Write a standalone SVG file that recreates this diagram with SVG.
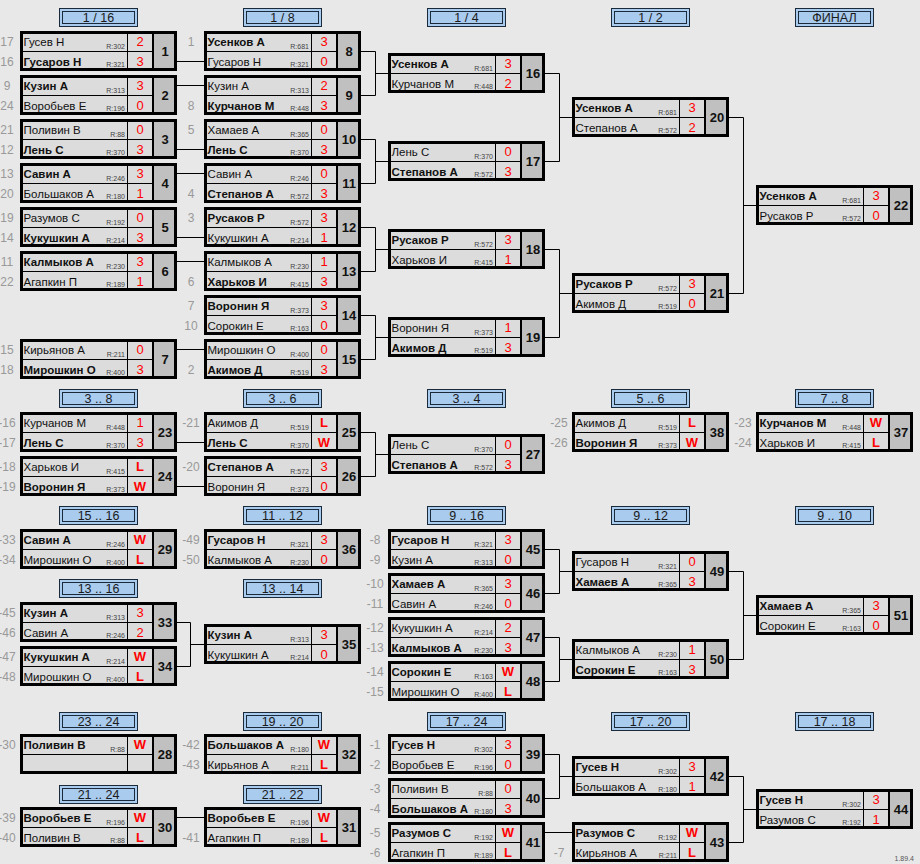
<svg xmlns="http://www.w3.org/2000/svg" xmlns:xlink="http://www.w3.org/1999/xlink" width="920" height="864" viewBox="0 0 920 864">
<style>
text{font-family:"Liberation Sans",Arial,sans-serif}
.t{font-size:11.5px;fill:#111}
.b{font-weight:bold}
.r{font-size:7px;fill:#444;text-anchor:end}
.s{font-size:13px;fill:#f00;text-anchor:middle}
.n{font-size:13px;font-weight:bold;fill:#111;text-anchor:middle}
.l{font-size:12px;fill:#999;text-anchor:middle}
.h{font-size:12.5px;fill:#1a1a1a;text-anchor:middle}
.v{font-size:7px;fill:#555;text-anchor:end}
.c{fill:none;stroke:#000;stroke-width:1}
</style>
<defs>
<g id="f">
<rect x="0" y="0" width="157" height="40" fill="#dcdcdc"/>
<rect x="133" y="0" width="24" height="40" fill="#c0c0c0"/>
<path d="M0 20.5H133M107.5 0V40" stroke="#000" stroke-width="1"/>
<path d="M133 0V40" stroke="#000" stroke-width="2"/>
<rect x="1.5" y="1.5" width="154" height="37" fill="none" stroke="#000" stroke-width="3"/>
</g>
<g id="hf">
<rect x="0.5" y="0.5" width="78" height="18" fill="#a9cbee" stroke="#1a2a3a" stroke-width="1"/>
<rect x="3.5" y="3.5" width="72" height="12" fill="none" stroke="#1a2a3a" stroke-width="1"/>
</g>
</defs>
<rect width="920" height="864" fill="#e8e8e8"/>

<g id="headers">
<g transform="translate(59,8)"><use href="#hf"/><text class="h" x="39.5" y="14">1 / 16</text></g>
<g transform="translate(243,8)"><use href="#hf"/><text class="h" x="39.5" y="14">1 / 8</text></g>
<g transform="translate(427,8)"><use href="#hf"/><text class="h" x="39.5" y="14">1 / 4</text></g>
<g transform="translate(611,8)"><use href="#hf"/><text class="h" x="39.5" y="14">1 / 2</text></g>
<g transform="translate(795,8)"><use href="#hf"/><text class="h" x="39.5" y="14">ФИНАЛ</text></g>
<g transform="translate(59,389)"><use href="#hf"/><text class="h" x="39.5" y="14">3 .. 8</text></g>
<g transform="translate(243,389)"><use href="#hf"/><text class="h" x="39.5" y="14">3 .. 6</text></g>
<g transform="translate(427,389)"><use href="#hf"/><text class="h" x="39.5" y="14">3 .. 4</text></g>
<g transform="translate(611,389)"><use href="#hf"/><text class="h" x="39.5" y="14">5 .. 6</text></g>
<g transform="translate(795,389)"><use href="#hf"/><text class="h" x="39.5" y="14">7 .. 8</text></g>
<g transform="translate(59,506)"><use href="#hf"/><text class="h" x="39.5" y="14">15 .. 16</text></g>
<g transform="translate(243,506)"><use href="#hf"/><text class="h" x="39.5" y="14">11 .. 12</text></g>
<g transform="translate(427,506)"><use href="#hf"/><text class="h" x="39.5" y="14">9 .. 16</text></g>
<g transform="translate(611,506)"><use href="#hf"/><text class="h" x="39.5" y="14">9 .. 12</text></g>
<g transform="translate(795,506)"><use href="#hf"/><text class="h" x="39.5" y="14">9 .. 10</text></g>
<g transform="translate(59,579)"><use href="#hf"/><text class="h" x="39.5" y="14">13 .. 16</text></g>
<g transform="translate(243,579)"><use href="#hf"/><text class="h" x="39.5" y="14">13 .. 14</text></g>
<g transform="translate(59,712)"><use href="#hf"/><text class="h" x="39.5" y="14">23 .. 24</text></g>
<g transform="translate(243,712)"><use href="#hf"/><text class="h" x="39.5" y="14">19 .. 20</text></g>
<g transform="translate(427,712)"><use href="#hf"/><text class="h" x="39.5" y="14">17 .. 24</text></g>
<g transform="translate(611,712)"><use href="#hf"/><text class="h" x="39.5" y="14">17 .. 20</text></g>
<g transform="translate(795,712)"><use href="#hf"/><text class="h" x="39.5" y="14">17 .. 18</text></g>
<g transform="translate(59,785)"><use href="#hf"/><text class="h" x="39.5" y="14">21 .. 24</text></g>
<g transform="translate(243,785)"><use href="#hf"/><text class="h" x="39.5" y="14">21 .. 22</text></g>
</g>

<g id="connectors">
<path class="c" d="M177 61.5H204M177 85.5H204M177 149.5H204M177 173.5H204M177 237.5H204M177 261.5H204M177 349.5H204"/>
<path class="c" d="M361 51.5H375.5V95.5H361M375.5 73.5H388M361 139.5H375.5V183.5H361M375.5 161.5H388M361 227.5H375.5V271.5H361M375.5 249.5H388M361 315.5H375.5V359.5H361M375.5 337.5H388"/>
<path class="c" d="M545 73.5H559.5V161.5H545M559.5 117.5H572M545 249.5H559.5V337.5H545M559.5 293.5H572"/>
<path class="c" d="M729 117.5H743.5V293.5H729M743.5 205.5H756"/>
<path class="c" d="M177 442.5H204M177 486.5H204M361 432.5H375.5V476.5H361M375.5 454.5H388"/>
<path class="c" d="M177 622.5H190.5V666.5H177M190.5 644.5H204"/>
<path class="c" d="M545 549.5H559.5V593.5H545M559.5 571.5H572M545 637.5H559.5V681.5H545M559.5 659.5H572M729 571.5H743.5V659.5H729M743.5 615.5H756"/>
<path class="c" d="M545 754.5H559.5V798.5H545M559.5 776.5H572M545 832.5H572M729 776.5H743.5V842.5H729M743.5 809.5H756"/>
<path class="c" d="M177 817.5H204"/>
</g>

<g id="m1" transform="translate(20,31)"><use href="#f"/><text class="l" x="-13" y="15">17</text><text class="l" x="-13" y="35">16</text><text class="t" x="3.5" y="15">Гусев Н</text><text class="t b" x="3.5" y="35">Гусаров Н</text><text class="r" x="105" y="17.5">R:302</text><text class="r" x="105" y="36">R:321</text><text class="s" x="120" y="15">2</text><text class="s" x="120" y="35">3</text><text class="n" x="145" y="25">1</text></g>
<g id="m2" transform="translate(20,75)"><use href="#f"/><text class="l" x="-13" y="15">9</text><text class="l" x="-13" y="35">24</text><text class="t b" x="3.5" y="15">Кузин А</text><text class="t" x="3.5" y="35">Воробьев Е</text><text class="r" x="105" y="17.5">R:313</text><text class="r" x="105" y="36">R:196</text><text class="s" x="120" y="15">3</text><text class="s" x="120" y="35">0</text><text class="n" x="145" y="25">2</text></g>
<g id="m3" transform="translate(20,119)"><use href="#f"/><text class="l" x="-13" y="15">21</text><text class="l" x="-13" y="35">12</text><text class="t" x="3.5" y="15">Поливин В</text><text class="t b" x="3.5" y="35">Лень С</text><text class="r" x="105" y="17.5">R:88</text><text class="r" x="105" y="36">R:370</text><text class="s" x="120" y="15">0</text><text class="s" x="120" y="35">3</text><text class="n" x="145" y="25">3</text></g>
<g id="m4" transform="translate(20,163)"><use href="#f"/><text class="l" x="-13" y="15">13</text><text class="l" x="-13" y="35">20</text><text class="t b" x="3.5" y="15">Савин А</text><text class="t" x="3.5" y="35">Большаков А</text><text class="r" x="105" y="17.5">R:246</text><text class="r" x="105" y="36">R:180</text><text class="s" x="120" y="15">3</text><text class="s" x="120" y="35">1</text><text class="n" x="145" y="25">4</text></g>
<g id="m5" transform="translate(20,207)"><use href="#f"/><text class="l" x="-13" y="15">19</text><text class="l" x="-13" y="35">14</text><text class="t" x="3.5" y="15">Разумов С</text><text class="t b" x="3.5" y="35">Кукушкин А</text><text class="r" x="105" y="17.5">R:192</text><text class="r" x="105" y="36">R:214</text><text class="s" x="120" y="15">0</text><text class="s" x="120" y="35">3</text><text class="n" x="145" y="25">5</text></g>
<g id="m6" transform="translate(20,251)"><use href="#f"/><text class="l" x="-13" y="15">11</text><text class="l" x="-13" y="35">22</text><text class="t b" x="3.5" y="15">Калмыков А</text><text class="t" x="3.5" y="35">Агапкин П</text><text class="r" x="105" y="17.5">R:230</text><text class="r" x="105" y="36">R:189</text><text class="s" x="120" y="15">3</text><text class="s" x="120" y="35">1</text><text class="n" x="145" y="25">6</text></g>
<g id="m7" transform="translate(20,339)"><use href="#f"/><text class="l" x="-13" y="15">15</text><text class="l" x="-13" y="35">18</text><text class="t" x="3.5" y="15">Кирьянов А</text><text class="t b" x="3.5" y="35">Мирошкин О</text><text class="r" x="105" y="17.5">R:211</text><text class="r" x="105" y="36">R:400</text><text class="s" x="120" y="15">0</text><text class="s" x="120" y="35">3</text><text class="n" x="145" y="25">7</text></g>
<g id="m8" transform="translate(204,31)"><use href="#f"/><text class="l" x="-13" y="15">1</text><text class="t b" x="3.5" y="15">Усенков А</text><text class="t" x="3.5" y="35">Гусаров Н</text><text class="r" x="105" y="17.5">R:681</text><text class="r" x="105" y="36">R:321</text><text class="s" x="120" y="15">3</text><text class="s" x="120" y="35">0</text><text class="n" x="145" y="25">8</text></g>
<g id="m9" transform="translate(204,75)"><use href="#f"/><text class="l" x="-13" y="35">8</text><text class="t" x="3.5" y="15">Кузин А</text><text class="t b" x="3.5" y="35">Курчанов М</text><text class="r" x="105" y="17.5">R:313</text><text class="r" x="105" y="36">R:448</text><text class="s" x="120" y="15">2</text><text class="s" x="120" y="35">3</text><text class="n" x="145" y="25">9</text></g>
<g id="m10" transform="translate(204,119)"><use href="#f"/><text class="l" x="-13" y="15">5</text><text class="t" x="3.5" y="15">Хамаев А</text><text class="t b" x="3.5" y="35">Лень С</text><text class="r" x="105" y="17.5">R:365</text><text class="r" x="105" y="36">R:370</text><text class="s" x="120" y="15">0</text><text class="s" x="120" y="35">3</text><text class="n" x="145" y="25">10</text></g>
<g id="m11" transform="translate(204,163)"><use href="#f"/><text class="l" x="-13" y="35">4</text><text class="t" x="3.5" y="15">Савин А</text><text class="t b" x="3.5" y="35">Степанов А</text><text class="r" x="105" y="17.5">R:246</text><text class="r" x="105" y="36">R:572</text><text class="s" x="120" y="15">0</text><text class="s" x="120" y="35">3</text><text class="n" x="145" y="25">11</text></g>
<g id="m12" transform="translate(204,207)"><use href="#f"/><text class="l" x="-13" y="15">3</text><text class="t b" x="3.5" y="15">Русаков Р</text><text class="t" x="3.5" y="35">Кукушкин А</text><text class="r" x="105" y="17.5">R:572</text><text class="r" x="105" y="36">R:214</text><text class="s" x="120" y="15">3</text><text class="s" x="120" y="35">1</text><text class="n" x="145" y="25">12</text></g>
<g id="m13" transform="translate(204,251)"><use href="#f"/><text class="l" x="-13" y="35">6</text><text class="t" x="3.5" y="15">Калмыков А</text><text class="t b" x="3.5" y="35">Харьков И</text><text class="r" x="105" y="17.5">R:230</text><text class="r" x="105" y="36">R:415</text><text class="s" x="120" y="15">1</text><text class="s" x="120" y="35">3</text><text class="n" x="145" y="25">13</text></g>
<g id="m14" transform="translate(204,295)"><use href="#f"/><text class="l" x="-13" y="15">7</text><text class="l" x="-13" y="35">10</text><text class="t b" x="3.5" y="15">Воронин Я</text><text class="t" x="3.5" y="35">Сорокин Е</text><text class="r" x="105" y="17.5">R:373</text><text class="r" x="105" y="36">R:163</text><text class="s" x="120" y="15">3</text><text class="s" x="120" y="35">0</text><text class="n" x="145" y="25">14</text></g>
<g id="m15" transform="translate(204,339)"><use href="#f"/><text class="l" x="-13" y="35">2</text><text class="t" x="3.5" y="15">Мирошкин О</text><text class="t b" x="3.5" y="35">Акимов Д</text><text class="r" x="105" y="17.5">R:400</text><text class="r" x="105" y="36">R:519</text><text class="s" x="120" y="15">0</text><text class="s" x="120" y="35">3</text><text class="n" x="145" y="25">15</text></g>
<g id="m16" transform="translate(388,53)"><use href="#f"/><text class="t b" x="3.5" y="15">Усенков А</text><text class="t" x="3.5" y="35">Курчанов М</text><text class="r" x="105" y="17.5">R:681</text><text class="r" x="105" y="36">R:448</text><text class="s" x="120" y="15">3</text><text class="s" x="120" y="35">2</text><text class="n" x="145" y="25">16</text></g>
<g id="m17" transform="translate(388,141)"><use href="#f"/><text class="t" x="3.5" y="15">Лень С</text><text class="t b" x="3.5" y="35">Степанов А</text><text class="r" x="105" y="17.5">R:370</text><text class="r" x="105" y="36">R:572</text><text class="s" x="120" y="15">0</text><text class="s" x="120" y="35">3</text><text class="n" x="145" y="25">17</text></g>
<g id="m18" transform="translate(388,229)"><use href="#f"/><text class="t b" x="3.5" y="15">Русаков Р</text><text class="t" x="3.5" y="35">Харьков И</text><text class="r" x="105" y="17.5">R:572</text><text class="r" x="105" y="36">R:415</text><text class="s" x="120" y="15">3</text><text class="s" x="120" y="35">1</text><text class="n" x="145" y="25">18</text></g>
<g id="m19" transform="translate(388,317)"><use href="#f"/><text class="t" x="3.5" y="15">Воронин Я</text><text class="t b" x="3.5" y="35">Акимов Д</text><text class="r" x="105" y="17.5">R:373</text><text class="r" x="105" y="36">R:519</text><text class="s" x="120" y="15">1</text><text class="s" x="120" y="35">3</text><text class="n" x="145" y="25">19</text></g>
<g id="m20" transform="translate(572,97)"><use href="#f"/><text class="t b" x="3.5" y="15">Усенков А</text><text class="t" x="3.5" y="35">Степанов А</text><text class="r" x="105" y="17.5">R:681</text><text class="r" x="105" y="36">R:572</text><text class="s" x="120" y="15">3</text><text class="s" x="120" y="35">2</text><text class="n" x="145" y="25">20</text></g>
<g id="m21" transform="translate(572,273)"><use href="#f"/><text class="t b" x="3.5" y="15">Русаков Р</text><text class="t" x="3.5" y="35">Акимов Д</text><text class="r" x="105" y="17.5">R:572</text><text class="r" x="105" y="36">R:519</text><text class="s" x="120" y="15">3</text><text class="s" x="120" y="35">0</text><text class="n" x="145" y="25">21</text></g>
<g id="m22" transform="translate(756,185)"><use href="#f"/><text class="t b" x="3.5" y="15">Усенков А</text><text class="t" x="3.5" y="35">Русаков Р</text><text class="r" x="105" y="17.5">R:681</text><text class="r" x="105" y="36">R:572</text><text class="s" x="120" y="15">3</text><text class="s" x="120" y="35">0</text><text class="n" x="145" y="25">22</text></g>
<g id="m23" transform="translate(20,412)"><use href="#f"/><text class="l" x="-13" y="15">-16</text><text class="l" x="-13" y="35">-17</text><text class="t" x="3.5" y="15">Курчанов М</text><text class="t b" x="3.5" y="35">Лень С</text><text class="r" x="105" y="17.5">R:448</text><text class="r" x="105" y="36">R:370</text><text class="s" x="120" y="15">1</text><text class="s" x="120" y="35">3</text><text class="n" x="145" y="25">23</text></g>
<g id="m24" transform="translate(20,456)"><use href="#f"/><text class="l" x="-13" y="15">-18</text><text class="l" x="-13" y="35">-19</text><text class="t" x="3.5" y="15">Харьков И</text><text class="t b" x="3.5" y="35">Воронин Я</text><text class="r" x="105" y="17.5">R:415</text><text class="r" x="105" y="36">R:373</text><text class="s b" x="120" y="15">L</text><text class="s b" x="120" y="35">W</text><text class="n" x="145" y="25">24</text></g>
<g id="m25" transform="translate(204,412)"><use href="#f"/><text class="l" x="-13" y="15">-21</text><text class="t" x="3.5" y="15">Акимов Д</text><text class="t b" x="3.5" y="35">Лень С</text><text class="r" x="105" y="17.5">R:519</text><text class="r" x="105" y="36">R:370</text><text class="s b" x="120" y="15">L</text><text class="s b" x="120" y="35">W</text><text class="n" x="145" y="25">25</text></g>
<g id="m26" transform="translate(204,456)"><use href="#f"/><text class="l" x="-13" y="15">-20</text><text class="t b" x="3.5" y="15">Степанов А</text><text class="t" x="3.5" y="35">Воронин Я</text><text class="r" x="105" y="17.5">R:572</text><text class="r" x="105" y="36">R:373</text><text class="s" x="120" y="15">3</text><text class="s" x="120" y="35">0</text><text class="n" x="145" y="25">26</text></g>
<g id="m27" transform="translate(388,434)"><use href="#f"/><text class="t" x="3.5" y="15">Лень С</text><text class="t b" x="3.5" y="35">Степанов А</text><text class="r" x="105" y="17.5">R:370</text><text class="r" x="105" y="36">R:572</text><text class="s" x="120" y="15">0</text><text class="s" x="120" y="35">3</text><text class="n" x="145" y="25">27</text></g>
<g id="m38" transform="translate(572,412)"><use href="#f"/><text class="l" x="-13" y="15">-25</text><text class="l" x="-13" y="35">-26</text><text class="t" x="3.5" y="15">Акимов Д</text><text class="t b" x="3.5" y="35">Воронин Я</text><text class="r" x="105" y="17.5">R:519</text><text class="r" x="105" y="36">R:373</text><text class="s b" x="120" y="15">L</text><text class="s b" x="120" y="35">W</text><text class="n" x="145" y="25">38</text></g>
<g id="m37" transform="translate(756,412)"><use href="#f"/><text class="l" x="-13" y="15">-23</text><text class="l" x="-13" y="35">-24</text><text class="t b" x="3.5" y="15">Курчанов М</text><text class="t" x="3.5" y="35">Харьков И</text><text class="r" x="105" y="17.5">R:448</text><text class="r" x="105" y="36">R:415</text><text class="s b" x="120" y="15">W</text><text class="s b" x="120" y="35">L</text><text class="n" x="145" y="25">37</text></g>
<g id="m29" transform="translate(20,529)"><use href="#f"/><text class="l" x="-13" y="15">-33</text><text class="l" x="-13" y="35">-34</text><text class="t b" x="3.5" y="15">Савин А</text><text class="t" x="3.5" y="35">Мирошкин О</text><text class="r" x="105" y="17.5">R:246</text><text class="r" x="105" y="36">R:400</text><text class="s b" x="120" y="15">W</text><text class="s b" x="120" y="35">L</text><text class="n" x="145" y="25">29</text></g>
<g id="m36" transform="translate(204,529)"><use href="#f"/><text class="l" x="-13" y="15">-49</text><text class="l" x="-13" y="35">-50</text><text class="t b" x="3.5" y="15">Гусаров Н</text><text class="t" x="3.5" y="35">Калмыков А</text><text class="r" x="105" y="17.5">R:321</text><text class="r" x="105" y="36">R:230</text><text class="s" x="120" y="15">3</text><text class="s" x="120" y="35">0</text><text class="n" x="145" y="25">36</text></g>
<g id="m45" transform="translate(388,529)"><use href="#f"/><text class="l" x="-13" y="15">-8</text><text class="l" x="-13" y="35">-9</text><text class="t b" x="3.5" y="15">Гусаров Н</text><text class="t" x="3.5" y="35">Кузин А</text><text class="r" x="105" y="17.5">R:321</text><text class="r" x="105" y="36">R:313</text><text class="s" x="120" y="15">3</text><text class="s" x="120" y="35">0</text><text class="n" x="145" y="25">45</text></g>
<g id="m46" transform="translate(388,573)"><use href="#f"/><text class="l" x="-13" y="15">-10</text><text class="l" x="-13" y="35">-11</text><text class="t b" x="3.5" y="15">Хамаев А</text><text class="t" x="3.5" y="35">Савин А</text><text class="r" x="105" y="17.5">R:365</text><text class="r" x="105" y="36">R:246</text><text class="s" x="120" y="15">3</text><text class="s" x="120" y="35">0</text><text class="n" x="145" y="25">46</text></g>
<g id="m47" transform="translate(388,617)"><use href="#f"/><text class="l" x="-13" y="15">-12</text><text class="l" x="-13" y="35">-13</text><text class="t" x="3.5" y="15">Кукушкин А</text><text class="t b" x="3.5" y="35">Калмыков А</text><text class="r" x="105" y="17.5">R:214</text><text class="r" x="105" y="36">R:230</text><text class="s" x="120" y="15">2</text><text class="s" x="120" y="35">3</text><text class="n" x="145" y="25">47</text></g>
<g id="m48" transform="translate(388,661)"><use href="#f"/><text class="l" x="-13" y="15">-14</text><text class="l" x="-13" y="35">-15</text><text class="t b" x="3.5" y="15">Сорокин Е</text><text class="t" x="3.5" y="35">Мирошкин О</text><text class="r" x="105" y="17.5">R:163</text><text class="r" x="105" y="36">R:400</text><text class="s b" x="120" y="15">W</text><text class="s b" x="120" y="35">L</text><text class="n" x="145" y="25">48</text></g>
<g id="m49" transform="translate(572,551)"><use href="#f"/><text class="t" x="3.5" y="15">Гусаров Н</text><text class="t b" x="3.5" y="35">Хамаев А</text><text class="r" x="105" y="17.5">R:321</text><text class="r" x="105" y="36">R:365</text><text class="s" x="120" y="15">0</text><text class="s" x="120" y="35">3</text><text class="n" x="145" y="25">49</text></g>
<g id="m50" transform="translate(572,639)"><use href="#f"/><text class="t" x="3.5" y="15">Калмыков А</text><text class="t b" x="3.5" y="35">Сорокин Е</text><text class="r" x="105" y="17.5">R:230</text><text class="r" x="105" y="36">R:163</text><text class="s" x="120" y="15">1</text><text class="s" x="120" y="35">3</text><text class="n" x="145" y="25">50</text></g>
<g id="m51" transform="translate(756,595)"><use href="#f"/><text class="t b" x="3.5" y="15">Хамаев А</text><text class="t" x="3.5" y="35">Сорокин Е</text><text class="r" x="105" y="17.5">R:365</text><text class="r" x="105" y="36">R:163</text><text class="s" x="120" y="15">3</text><text class="s" x="120" y="35">0</text><text class="n" x="145" y="25">51</text></g>
<g id="m33" transform="translate(20,602)"><use href="#f"/><text class="l" x="-13" y="15">-45</text><text class="l" x="-13" y="35">-46</text><text class="t b" x="3.5" y="15">Кузин А</text><text class="t" x="3.5" y="35">Савин А</text><text class="r" x="105" y="17.5">R:313</text><text class="r" x="105" y="36">R:246</text><text class="s" x="120" y="15">3</text><text class="s" x="120" y="35">2</text><text class="n" x="145" y="25">33</text></g>
<g id="m34" transform="translate(20,646)"><use href="#f"/><text class="l" x="-13" y="15">-47</text><text class="l" x="-13" y="35">-48</text><text class="t b" x="3.5" y="15">Кукушкин А</text><text class="t" x="3.5" y="35">Мирошкин О</text><text class="r" x="105" y="17.5">R:214</text><text class="r" x="105" y="36">R:400</text><text class="s b" x="120" y="15">W</text><text class="s b" x="120" y="35">L</text><text class="n" x="145" y="25">34</text></g>
<g id="m35" transform="translate(204,624)"><use href="#f"/><text class="t b" x="3.5" y="15">Кузин А</text><text class="t" x="3.5" y="35">Кукушкин А</text><text class="r" x="105" y="17.5">R:313</text><text class="r" x="105" y="36">R:214</text><text class="s" x="120" y="15">3</text><text class="s" x="120" y="35">0</text><text class="n" x="145" y="25">35</text></g>
<g id="m28" transform="translate(20,734)"><use href="#f"/><text class="l" x="-13" y="15">-30</text><text class="t b" x="3.5" y="15">Поливин В</text><text class="r" x="105" y="17.5">R:88</text><text class="s b" x="120" y="15">W</text><text class="n" x="145" y="25">28</text></g>
<g id="m32" transform="translate(204,734)"><use href="#f"/><text class="l" x="-13" y="15">-42</text><text class="l" x="-13" y="35">-43</text><text class="t b" x="3.5" y="15">Большаков А</text><text class="t" x="3.5" y="35">Кирьянов А</text><text class="r" x="105" y="17.5">R:180</text><text class="r" x="105" y="36">R:211</text><text class="s b" x="120" y="15">W</text><text class="s b" x="120" y="35">L</text><text class="n" x="145" y="25">32</text></g>
<g id="m39" transform="translate(388,734)"><use href="#f"/><text class="l" x="-13" y="15">-1</text><text class="l" x="-13" y="35">-2</text><text class="t b" x="3.5" y="15">Гусев Н</text><text class="t" x="3.5" y="35">Воробьев Е</text><text class="r" x="105" y="17.5">R:302</text><text class="r" x="105" y="36">R:196</text><text class="s" x="120" y="15">3</text><text class="s" x="120" y="35">0</text><text class="n" x="145" y="25">39</text></g>
<g id="m40" transform="translate(388,778)"><use href="#f"/><text class="l" x="-13" y="15">-3</text><text class="l" x="-13" y="35">-4</text><text class="t" x="3.5" y="15">Поливин В</text><text class="t b" x="3.5" y="35">Большаков А</text><text class="r" x="105" y="17.5">R:88</text><text class="r" x="105" y="36">R:180</text><text class="s" x="120" y="15">0</text><text class="s" x="120" y="35">3</text><text class="n" x="145" y="25">40</text></g>
<g id="m41" transform="translate(388,822)"><use href="#f"/><text class="l" x="-13" y="15">-5</text><text class="l" x="-13" y="35">-6</text><text class="t b" x="3.5" y="15">Разумов С</text><text class="t" x="3.5" y="35">Агапкин П</text><text class="r" x="105" y="17.5">R:192</text><text class="r" x="105" y="36">R:189</text><text class="s b" x="120" y="15">W</text><text class="s b" x="120" y="35">L</text><text class="n" x="145" y="25">41</text></g>
<g id="m42" transform="translate(572,756)"><use href="#f"/><text class="t b" x="3.5" y="15">Гусев Н</text><text class="t" x="3.5" y="35">Большаков А</text><text class="r" x="105" y="17.5">R:302</text><text class="r" x="105" y="36">R:180</text><text class="s" x="120" y="15">3</text><text class="s" x="120" y="35">1</text><text class="n" x="145" y="25">42</text></g>
<g id="m43" transform="translate(572,822)"><use href="#f"/><text class="l" x="-13" y="35">-7</text><text class="t b" x="3.5" y="15">Разумов С</text><text class="t" x="3.5" y="35">Кирьянов А</text><text class="r" x="105" y="17.5">R:192</text><text class="r" x="105" y="36">R:211</text><text class="s b" x="120" y="15">W</text><text class="s b" x="120" y="35">L</text><text class="n" x="145" y="25">43</text></g>
<g id="m44" transform="translate(756,789)"><use href="#f"/><text class="t b" x="3.5" y="15">Гусев Н</text><text class="t" x="3.5" y="35">Разумов С</text><text class="r" x="105" y="17.5">R:302</text><text class="r" x="105" y="36">R:192</text><text class="s" x="120" y="15">3</text><text class="s" x="120" y="35">1</text><text class="n" x="145" y="25">44</text></g>
<g id="m30" transform="translate(20,807)"><use href="#f"/><text class="l" x="-13" y="15">-39</text><text class="l" x="-13" y="35">-40</text><text class="t b" x="3.5" y="15">Воробьев Е</text><text class="t" x="3.5" y="35">Поливин В</text><text class="r" x="105" y="17.5">R:196</text><text class="r" x="105" y="36">R:88</text><text class="s b" x="120" y="15">W</text><text class="s b" x="120" y="35">L</text><text class="n" x="145" y="25">30</text></g>
<g id="m31" transform="translate(204,807)"><use href="#f"/><text class="l" x="-13" y="35">-41</text><text class="t b" x="3.5" y="15">Воробьев Е</text><text class="t" x="3.5" y="35">Агапкин П</text><text class="r" x="105" y="17.5">R:196</text><text class="r" x="105" y="36">R:189</text><text class="s b" x="120" y="15">W</text><text class="s b" x="120" y="35">L</text><text class="n" x="145" y="25">31</text></g>

<text class="v" x="914" y="861">1.89.4</text>
</svg>
